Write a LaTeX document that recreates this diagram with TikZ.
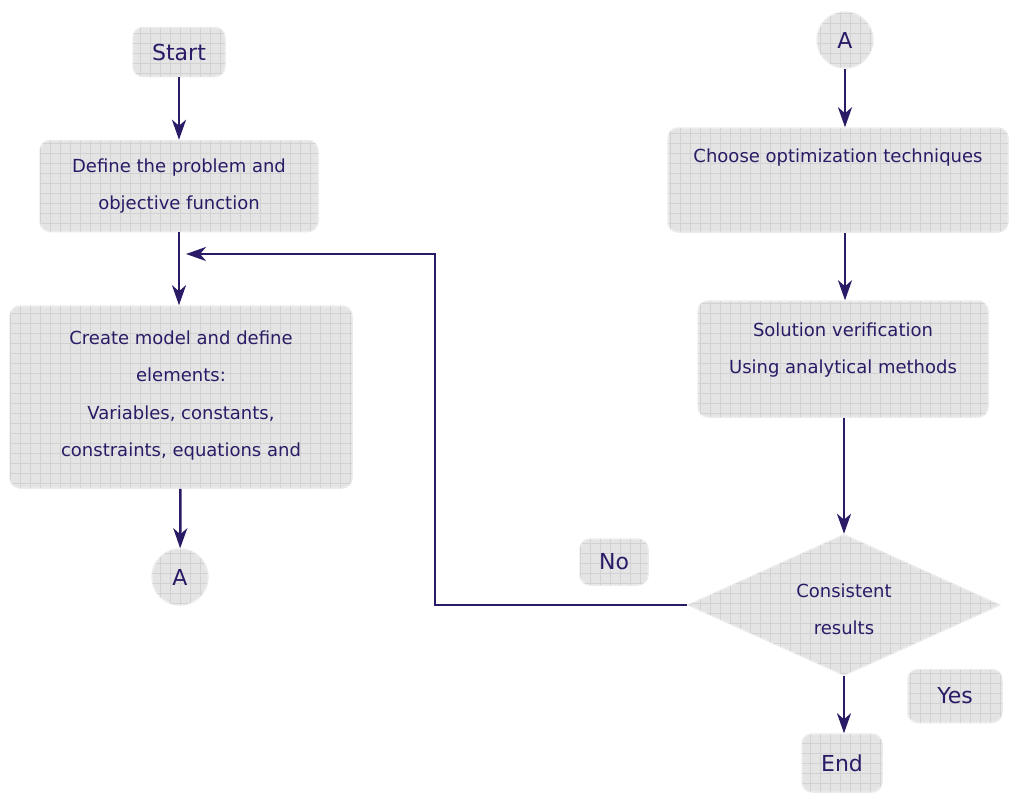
\documentclass[tikz,border=0pt]{standalone}
\usepackage{fontspec}
\setmainfont{DejaVu Sans}
\usepackage{xcolor}
\usepackage{tikz}
\usetikzlibrary{arrows.meta}
\usetikzlibrary{shapes.geometric, patterns.meta, positioning}

\definecolor{inkblue}{HTML}{2B1A66}
\definecolor{boxgray}{HTML}{E4E4E4}
\definecolor{rimgray}{HTML}{ECECEC}
\definecolor{gridgray}{HTML}{D2D2D2}

\begin{document}
\begin{tikzpicture}[x=1pt,y=-1pt,
                    box node/.style={rectangle,rounded corners=10pt,fill=boxgray,draw=rimgray,line width=1.5pt,
                       postaction={pattern={Hatch[angle=0,distance=10pt,line width=0.5pt]},pattern color=gridgray},
                       text=inkblue,align=center,inner sep=0pt,font=\fontsize{18}{37.5}\selectfont},
                    big node/.style={box node,font=\fontsize{22}{26}\selectfont},
                    conn node/.style={box node,circle,rounded corners=0pt,minimum size=56pt,font=\fontsize{22}{26}\selectfont},
                    flow/.style={draw=inkblue,line width=2.5pt,-{Stealth[length=20pt,width=14pt,inset=6pt]}}]
 \useasboundingbox (0,0) rectangle (1009,793);

%Left column
  \node[big node,minimum width=92pt,minimum height=49pt] (start) at (179,52) {Start};
  \node[box node,minimum width=278pt,minimum height=91pt] (define) at (179,186)
       {Define the problem and\\objective function};
  \node[box node,minimum width=342pt,minimum height=182pt] (model) at (181,397)
       {Create model and define\\elements:\\Variables, constants,\\constraints, equations and\\[-31pt]~};
  \node[conn node] (connA) at (180,577) {A};

%Right column
  \node[conn node] (connB) at (845,40) {A};
  \node[box node,minimum width=340pt,minimum height=104pt] (choose) at (838,180)
       {Choose optimization techniques\\[12pt]~};
  \node[box node,minimum width=290pt,minimum height=116pt] (verify) at (843,359)
       {Solution verification\\Using analytical methods\\[-16pt]~};
  \node[box node,shape=diamond,aspect=2.2,rounded corners=0pt,minimum width=312pt,minimum height=141pt] (consistent) at (844,605)
       {\rule{0pt}{22pt}Consistent\\results};
  \node[big node,minimum width=80pt,minimum height=58pt] (stop) at (842,763) {End};

%Answer labels
  \node[big node,minimum width=68pt,minimum height=46pt] (no) at (614,562) {No};
  \node[big node,minimum width=94pt,minimum height=53pt] (yes) at (955,696) {Yes};

%Arrows
  \draw[flow] (start) -- (define);
  \draw[flow] (define) -- (model.north -| define);
  \draw[flow] (model) -- (connA);
  \draw[flow] (connB) -- (choose.north -| connB);
  \draw[flow] (choose.south -| connB) -- (verify.north -| connB);
  \draw[flow] (verify.south -| consistent) -- (consistent);
  \draw[flow] (consistent) -- (stop.north -| consistent);

%Loop back when results differ
  \coordinate (loopTop) at (435,254);
  \coordinate (loopEnd) at (186,254);
  \draw[flow] (consistent.west) -| (loopTop) -- (loopEnd);

\end{tikzpicture}
\end{document}
